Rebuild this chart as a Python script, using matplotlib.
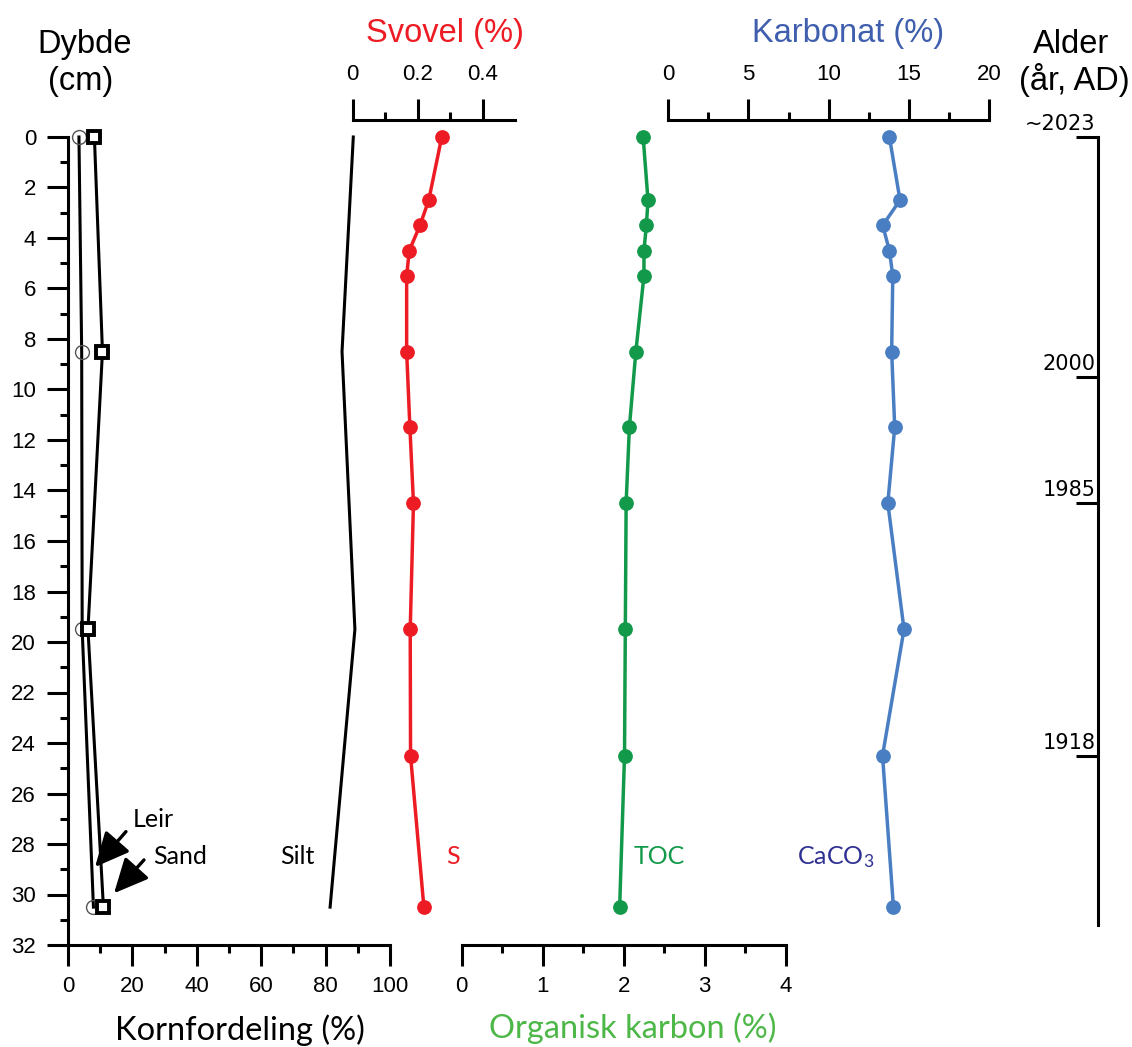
import matplotlib
matplotlib.use("Agg")
import matplotlib.pyplot as plt

plt.rcParams['font.family'] = ['Liberation Sans', 'DejaVu Sans']
plt.rcParams['mathtext.fontset'] = 'custom'
plt.rcParams['mathtext.rm'] = 'Lato'
plt.rcParams['mathtext.it'] = 'Lato'

# ---------------- data ----------------
depth_grain = [0, 8.5, 19.5, 30.5]
clay = [3.4, 4.25, 4.4, 7.9]          # Leir (%)
sand = [8.2, 10.7, 6.2, 11.0]         # Sand (%)
silt = [88.6, 85.1, 89.1, 81.4]       # Silt (%)

depth_chem = [0, 2.5, 3.5, 4.5, 5.5, 8.5, 11.5, 14.5, 19.5, 24.5, 30.5]
sulfur = [0.274, 0.234, 0.207, 0.174, 0.166, 0.166, 0.176, 0.187, 0.177, 0.178, 0.219]
toc = [2.24, 2.30, 2.28, 2.25, 2.25, 2.15, 2.07, 2.03, 2.02, 2.01, 1.95]
caco3 = [13.79, 14.45, 13.37, 13.79, 14.0, 13.93, 14.12, 13.69, 14.70, 13.36, 14.04]

age_depths = [0, 9.5, 14.5, 24.5]
age_labels = ["~2023", "2000", "1985", "1918"]
age_bottom = 31.2

depth_ticks = list(range(0, 33, 2))
grain_ticks = [0, 20, 40, 60, 80, 100]
sulfur_ticks = [0, 0.2, 0.4]
toc_ticks = [0, 1, 2, 3, 4]
caco3_ticks = [0, 5, 10, 15, 20]

# ---------------- style ----------------
RED = '#ED1C24'
GREEN = '#12994A'
GREEN_T = '#4DB848'
BLUE = '#4A7EC2'
BLUE_T = '#3F5FAE'
NAVY = '#2E3192'
LW = 2.2

W, H = 1132, 1047
fig = plt.figure(figsize=(W / 100, H / 100), dpi=100)
Y0, Y1 = 137, 945


def axes_px(x0, x1):
    ax = fig.add_axes([x0 / W, (H - Y1) / H, (x1 - x0) / W, (Y1 - Y0) / H])
    ax.patch.set_visible(False)
    ax.set_ylim(32, 0)
    for s in ax.spines.values():
        s.set_visible(False)
        s.set_linewidth(LW)
    return ax


def fpx(x, y):
    return x / W, 1 - y / H


TICK = dict(length=15, width=LW, labelsize=16)
MINOR = dict(length=6, width=LW)

# ---- grain size / depth axes ----
ax0 = axes_px(68, 390)
ax0.set_xlim(0, 100)
ax0.spines['left'].set_visible(True)
ax0.spines['bottom'].set_visible(True)
ax0.set_yticks(depth_ticks)
ax0.set_yticks([d + 1 for d in depth_ticks[:-1]], minor=True)
ax0.set_xticks(grain_ticks)
ax0.set_xticks([g + 10 for g in grain_ticks[:-1]], minor=True)
ax0.tick_params(axis='y', which='major', direction='out', pad=8, **TICK)
ax0.tick_params(axis='x', which='major', direction='out', pad=7, **TICK)
ax0.tick_params(which='minor', direction='out', **MINOR)

ax0.plot(silt, depth_grain, color='black', lw=LW, clip_on=False, zorder=3)
ax0.plot(clay, depth_grain, color='black', lw=LW, marker='o', ms=10,
         mfc='none', mec='#555555', mew=1.0, clip_on=False, zorder=3)
ax0.plot(sand, depth_grain, color='black', lw=LW, marker='s', ms=8.6,
         mfc='white', mec='black', mew=2.8, clip_on=False, zorder=4)

lab_font = dict(family=['Lato', 'DejaVu Sans'], fontsize=18, va='baseline')
ax0.text(20.2, 27.31, "Leir", color='black', **lab_font)
ax0.text(26.4, 28.79, "Sand", color='black', **lab_font)
ax0.text(66.0, 28.79, "Silt", color='black', **lab_font)
arrow = dict(arrowstyle='-|>,head_length=0.7,head_width=0.33', color='black',
             lw=2.4, mutation_scale=30, shrinkA=0, shrinkB=0)
ax0.annotate('', xy=(8.4, 28.91), xytext=(18.0, 27.51), arrowprops=arrow,
             annotation_clip=False)
ax0.annotate('', xy=(14.3, 29.95), xytext=(23.6, 28.63), arrowprops=arrow,
             annotation_clip=False)

# ---- sulfur ----
ax_s = axes_px(352.7, 515.2)
ax_s.set_xlim(0, 0.5)
ax_s.spines['top'].set_visible(True)
ax_s.spines['top'].set_position(('outward', 12.2))
ax_s.xaxis.tick_top()
ax_s.set_xticks(sulfur_ticks)
ax_s.set_xticklabels(["0", "0.2", "0.4"])
ax_s.set_xticks([0.1, 0.3], minor=True)
ax_s.tick_params(axis='x', which='major', direction='out', pad=10, **TICK)
ax_s.tick_params(axis='x', which='minor', direction='out', **MINOR)
ax_s.tick_params(axis='y', which='both', left=False, labelleft=False)
ax_s.plot(sulfur, depth_chem, color=RED, lw=2.5, marker='o', ms=9.6,
          clip_on=False, zorder=3)
ax_s.text(0.289, 28.79, "S", color=RED, **lab_font)

# ---- TOC ----
ax_t = axes_px(461.7, 785.7)
ax_t.set_xlim(0, 4)
ax_t.spines['bottom'].set_visible(True)
ax_t.set_xticks(toc_ticks)
ax_t.set_xticks([t + 0.5 for t in toc_ticks[:-1]], minor=True)
ax_t.tick_params(axis='x', which='major', direction='out', pad=7, **TICK)
ax_t.tick_params(axis='x', which='minor', direction='out', **MINOR)
ax_t.tick_params(axis='y', which='both', left=False, labelleft=False)
ax_t.plot(toc, depth_chem, color=GREEN, lw=2.5, marker='o', ms=9.6,
          clip_on=False, zorder=3)
ax_t.text(2.127, 28.79, "TOC", color=GREEN, **lab_font)

# ---- carbonate ----
ax_c = axes_px(668.3, 989)
ax_c.set_xlim(0, 20)
ax_c.spines['top'].set_visible(True)
ax_c.spines['top'].set_position(('outward', 12.2))
ax_c.xaxis.tick_top()
ax_c.set_xticks(caco3_ticks)
ax_c.set_xticks([c + 2.5 for c in caco3_ticks[:-1]], minor=True)
ax_c.tick_params(axis='x', which='major', direction='out', pad=10, **TICK)
ax_c.tick_params(axis='x', which='minor', direction='out', **MINOR)
ax_c.tick_params(axis='y', which='both', left=False, labelleft=False)
ax_c.plot(caco3, depth_chem, color=BLUE, lw=2.5, marker='o', ms=9.6,
          clip_on=False, zorder=3)
ax_c.text(8.0, 28.79, r"CaCO$_\mathrm{3}$", color=NAVY, **lab_font)

# ---- age ----
ax_a = axes_px(1040, 1098)
ax_a.set_xlim(0, 1)
ax_a.spines['right'].set_visible(True)
ax_a.spines['right'].set_bounds(0, age_bottom)
ax_a.yaxis.tick_right()
ax_a.set_yticks(age_depths)
ax_a.tick_params(axis='y', which='major', direction='in', length=16, width=LW,
                 labelright=False, right=True)
ax_a.tick_params(axis='x', which='both', bottom=False, labelbottom=False)
for d, lab in zip(age_depths, age_labels):
    ax_a.annotate(lab, xy=(1, d), xycoords=('axes fraction', 'data'),
                  xytext=(-2, 5), textcoords='offset points', ha='right',
                  va='baseline', fontsize=15, family=['DejaVu Sans'])

# ---- titles ----
big = dict(fontsize=23.5, va='baseline', ha='center')
fig.text(*fpx(85, 53), "Dybde", color='black', **big)
fig.text(*fpx(81, 90), "(cm)", color='black', **big)
fig.text(*fpx(1071, 53), "Alder", color='black', **big)
fig.text(*fpx(1074, 90), "(år, AD)", color='black', **big)
fig.text(*fpx(445, 41.7), "Svovel (%)", color=RED, **big)
fig.text(*fpx(848, 41.7), "Karbonat (%)", color=BLUE_T, **big)
bot = dict(fontsize=23.5, va='baseline', ha='center', family=['Lato', 'DejaVu Sans'])
fig.text(*fpx(240, 1040), "Kornfordeling (%)", color='black', **bot)
fig.text(*fpx(633, 1038), "Organisk karbon (%)", color=GREEN_T, **bot)

fig.savefig("out.png", dpi=100, facecolor='white')
